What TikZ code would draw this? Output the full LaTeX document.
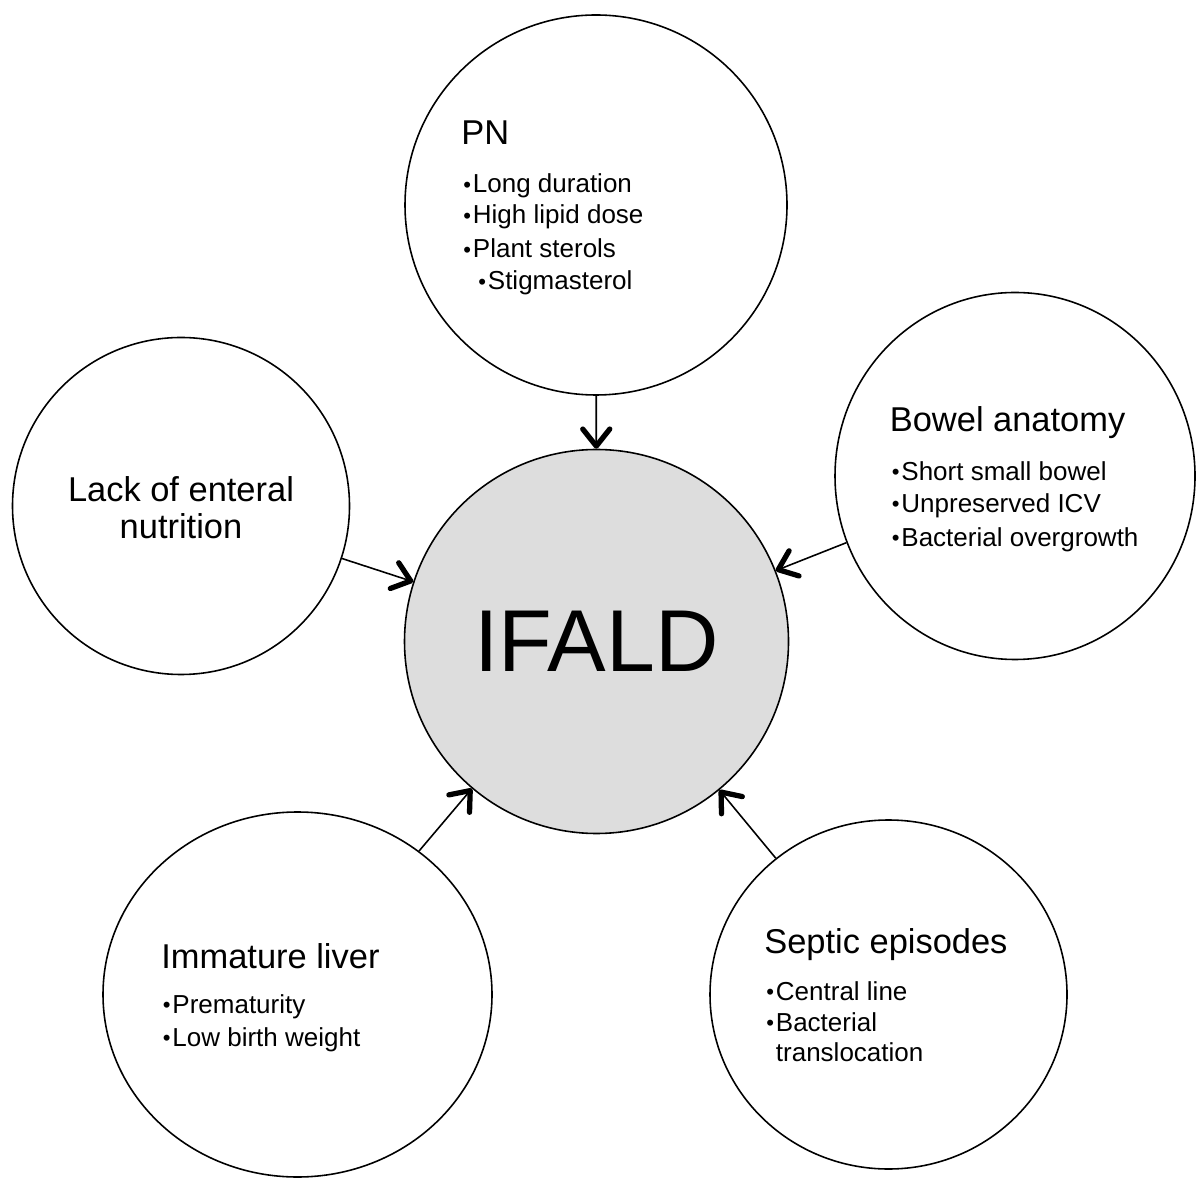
\documentclass[tikz,border=0pt]{standalone}
\usepackage{fontspec}
\setmainfont{Liberation Sans}
\usetikzlibrary{shapes.geometric,arrows.meta,positioning}
\definecolor{C_core}{RGB}{221,221,221}
\definecolor{C_ink}{RGB}{0,0,0}
\newcommand{\bul}{\raisebox{0.03em}{\scalebox{0.85}{\textbullet}}\hspace{0.07em}}

\begin{document}
\begin{tikzpicture}
  \tikzset{
    factor/.style={ellipse, draw=C_ink, line width=0.9pt, fill=white, inner sep=0pt},
    core/.style={circle, draw=C_ink, line width=0.9pt, fill=C_core, minimum size=7.68cm, inner sep=0pt, font=\fontsize{50}{56}\selectfont},
    cause/.style={-{Straight Barb[length=3.4mm, width=5.4mm, line width=3pt, round]}, line width=0.9pt, C_ink},
    head/.style={anchor=base west, inner sep=0pt, font=\fontsize{19.6}{21}\selectfont},
    item/.style={anchor=base west, inner sep=0pt, font=\fontsize{14.8}{17}\selectfont}
  }
  \useasboundingbox (0,0) rectangle (23.94,23.58);

  % circles
  \node[core] (ifald) at (11.93,10.75) {IFALD};
  \node[factor, minimum width=7.64cm, minimum height=7.60cm] (pn) at (11.92,19.48) {};
  \node[factor, minimum width=6.74cm, minimum height=6.74cm] (lack) at (3.62,13.46) {};
  \node[factor, minimum width=7.20cm, minimum height=7.34cm] (bowel) at (20.30,14.06) {};
  \node[factor, minimum width=7.78cm, minimum height=7.30cm] (liver) at (5.95,3.69) {};
  \node[factor, minimum width=7.14cm, minimum height=6.98cm] (septic) at (17.77,3.69) {};

  % arrows into the core
  \draw[cause] (pn) -- (ifald);
  \draw[cause] (lack) -- (ifald);
  \draw[cause] (bowel) -- (ifald);
  \draw[cause] (liver) -- (ifald);
  \draw[cause] (septic) -- (ifald);

  % PN
  \node[head] (pn-t) at (9.22,20.68) {PN};
  \foreach \y/\txt [count=\i] in {19.72/Long duration,19.10/High lipid dose,18.42/Plant sterols} {
    \node[item] (pn-\i) at (9.26,\y) {\bul\txt};
  }
  \node[item] (pn-4) at (9.56,17.78) {\bul Stigmasterol};

  % lack of enteral nutrition
  \node[head, anchor=base] (lack-1) at (3.62,13.55) {Lack of enteral};
  \node[head, anchor=base] (lack-2) at (3.62,12.81) {nutrition};

  % bowel anatomy
  \node[head] (bowel-t) at (17.79,14.95) {Bowel anatomy};
  \foreach \y/\txt [count=\i] in {13.97/Short small bowel,13.33/Unpreserved ICV,12.65/Bacterial overgrowth} {
    \node[item] (bowel-\i) at (17.83,\y) {\bul\txt};
  }

  % immature liver
  \node[head] (liver-t) at (3.22,4.21) {Immature liver};
  \foreach \y/\txt [count=\i] in {3.31/Prematurity,2.65/Low birth weight} {
    \node[item] (liver-\i) at (3.25,\y) {\bul\txt};
  }

  % septic episodes
  \node[head] (septic-t) at (15.28,4.51) {Septic episodes};
  \foreach \y/\txt [count=\i] in {3.58/Central line,2.95/Bacterial} {
    \node[item] (septic-\i) at (15.32,\y) {\bul\txt};
  }
  \node[item] (septic-3) at (15.32,2.35) {\hphantom{\bul}translocation};
\end{tikzpicture}
\end{document}
